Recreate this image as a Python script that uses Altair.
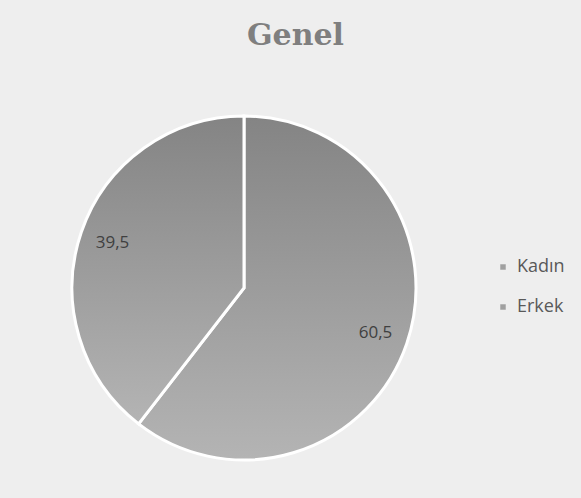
import altair as alt
import pandas as pd

categories = ["Kadın", "Erkek"]
values = [60.5, 39.5]
labels = ["60,5", "39,5"]

df = pd.DataFrame({"cat": categories, "val": values, "lab": labels, "ord": [0, 1]})

grad = alt.Gradient(
    gradient="linear",
    stops=[alt.GradientStop(color="#848484", offset=0),
           alt.GradientStop(color="#b4b4b4", offset=1)],
    x1=0, x2=0, y1=0, y2=1,
)

base = alt.Chart(df).encode(
    theta=alt.Theta("val:Q", stack=True),
    order=alt.Order("ord:Q"),
)

arcs = base.mark_arc(fill=grad, stroke="white", strokeWidth=3, outerRadius=172).encode(
    x=alt.value(244), y=alt.value(288)
)

text = base.mark_text(radius=139, fontSize=17, font="Open Sans", color="#404040").encode(
    x=alt.value(244), y=alt.value(288), text="lab:N"
)

legend_layer = alt.Chart(df).mark_square(opacity=0).encode(
    x=alt.value(0), y=alt.value(0),
    color=alt.Color(
        "cat:N",
        sort=categories,
        scale=alt.Scale(domain=categories, range=["#a0a0a0", "#a0a0a0"]),
        legend=alt.Legend(
            title=None, orient="none", legendX=494, legendY=258,
            symbolType="square", symbolSize=30, symbolOpacity=1,
            symbolStrokeWidth=0, labelFont="Open Sans", labelFontSize=18,
            labelColor="#595959", rowPadding=22, labelOffset=5,
        ),
    ),
)

chart = alt.layer(arcs, text, legend_layer).properties(
    width=581, height=498,
    title=alt.TitleParams("Genel", font="DejaVu Serif", fontSize=30, fontWeight="bold",
                          color="#7f7f7f", anchor="middle", dx=5, offset=-54),
    background="#eeeeee",
    padding=0,
    autosize=alt.AutoSizeParams(type="none"),
).configure_view(stroke=None)

chart.save("out.html", embed_options={"renderer": "svg", "actions": False})
